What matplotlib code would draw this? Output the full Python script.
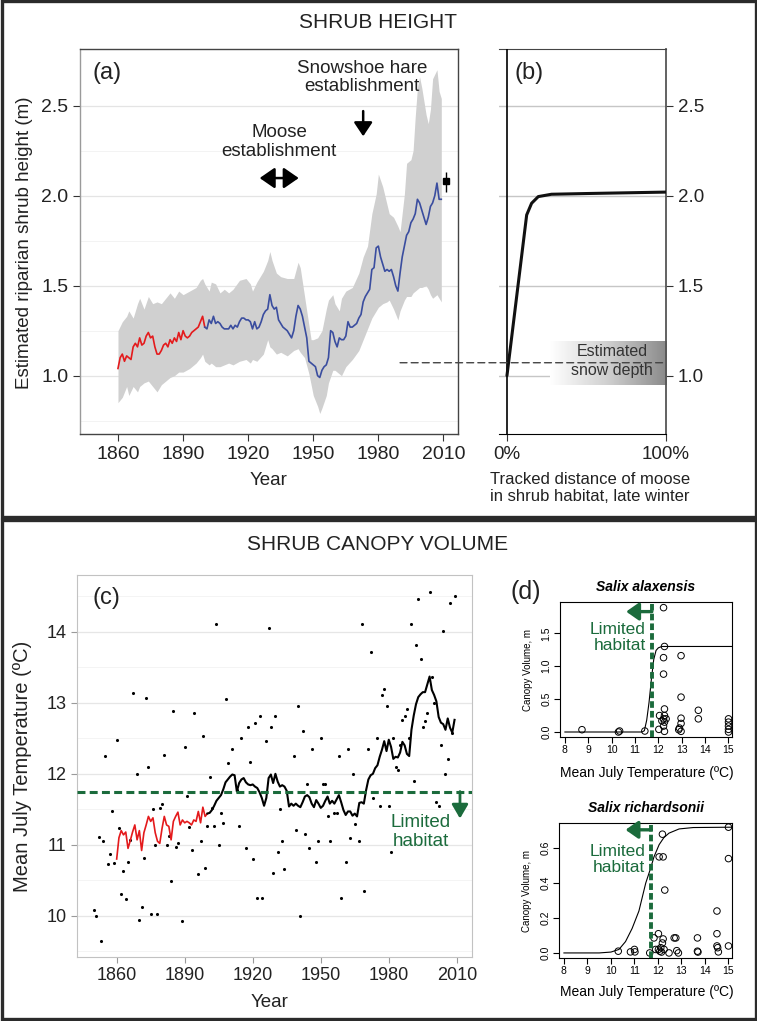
import numpy as np
import matplotlib.pyplot as plt
from matplotlib.patches import Rectangle, ConnectionPatch
from matplotlib.colors import LinearSegmentedColormap

plt.rcParams['font.family'] = ['Liberation Sans', 'DejaVu Sans']

# ---------------- data: (a) shrub height reconstruction ----------------
red_years = np.arange(1860, 1901)
red_height = [1.04, 1.10, 1.12, 1.08, 1.11, 1.10, 1.09, 1.16, 1.18, 1.16,
              1.21, 1.17, 1.18, 1.22, 1.24, 1.21, 1.22, 1.16, 1.12, 1.12,
              1.14, 1.17, 1.18, 1.16, 1.20, 1.18, 1.21, 1.19, 1.24, 1.20,
              1.25, 1.22, 1.21, 1.22, 1.24, 1.25, 1.26, 1.27, 1.30, 1.33,
              1.27]
blue_years = np.arange(1900, 2010)
blue_height = [1.27, 1.26, 1.31, 1.29, 1.33, 1.29, 1.30, 1.29, 1.27, 1.26,
               1.26, 1.26, 1.28, 1.26, 1.28, 1.27, 1.30, 1.32, 1.32, 1.31,
               1.31, 1.30, 1.26, 1.30, 1.26, 1.27, 1.30, 1.34, 1.36, 1.37,
               1.45, 1.39, 1.37, 1.38, 1.31, 1.29, 1.27, 1.26, 1.25, 1.23,
               1.21, 1.25, 1.33, 1.39, 1.37, 1.33, 1.27, 1.21, 1.08, 1.07,
               1.06, 1.05, 1.00, 0.99, 1.03, 1.05, 1.06, 1.10, 1.25, 1.24,
               1.19, 1.16, 1.21, 1.20, 1.20, 1.22, 1.30, 1.27, 1.27, 1.28,
               1.29, 1.32, 1.34, 1.41, 1.44, 1.46, 1.48, 1.59, 1.60, 1.71,
               1.72, 1.66, 1.62, 1.58, 1.59, 1.58, 1.59, 1.55, 1.50, 1.47,
               1.57, 1.66, 1.72, 1.78, 1.80, 1.85, 1.87, 1.90, 1.98, 1.96,
               1.92, 1.88, 1.84, 1.88, 1.94, 1.96, 2.00, 2.07, 1.98, 1.98]
band_years = [1860, 1862, 1864, 1865, 1867, 1869, 1870, 1872, 1874, 1876,
              1878, 1880, 1882, 1884, 1886, 1888, 1890, 1893, 1896, 1898,
              1899, 1900, 1902, 1903, 1905, 1907, 1909, 1911, 1913, 1916,
              1919, 1921, 1922, 1924, 1927, 1929, 1930, 1931, 1933, 1935,
              1938, 1941, 1943, 1944, 1946, 1948, 1949, 1950, 1952, 1953,
              1954, 1956, 1957, 1959, 1960, 1962, 1963, 1965, 1968, 1971,
              1973, 1975, 1977, 1979, 1980, 1982, 1984, 1985, 1987, 1989,
              1990, 1992, 1993, 1995, 1996, 1997, 1998, 1999, 2000, 2002,
              2003, 2004, 2005, 2007, 2008, 2009]
band_upper = [1.25, 1.30, 1.33, 1.36, 1.32, 1.40, 1.43, 1.37, 1.44, 1.40,
              1.41, 1.40, 1.43, 1.46, 1.43, 1.47, 1.45, 1.47, 1.49, 1.53,
              1.54, 1.51, 1.47, 1.52, 1.51, 1.46, 1.48, 1.46, 1.48, 1.53,
              1.54, 1.51, 1.47, 1.52, 1.58, 1.64, 1.69, 1.64, 1.57, 1.55,
              1.54, 1.54, 1.63, 1.60, 1.44, 1.28, 1.20, 1.20, 1.21, 1.23,
              1.25, 1.37, 1.42, 1.45, 1.40, 1.36, 1.43, 1.47, 1.49, 1.57,
              1.66, 1.72, 1.90, 2.01, 2.12, 2.05, 1.95, 1.90, 1.88, 1.83,
              1.80, 2.01, 2.18, 2.20, 2.25, 2.44, 2.60, 2.66, 2.60, 2.45,
              2.40, 2.48, 2.65, 2.70, 2.58, 2.54]
band_lower = [0.85, 0.88, 0.94, 0.89, 0.94, 0.91, 0.94, 0.96, 0.97, 0.94,
              0.91, 0.95, 0.97, 0.99, 1.00, 1.02, 1.02, 1.04, 1.07, 1.10,
              1.12, 1.08, 1.06, 1.07, 1.05, 1.05, 1.06, 1.07, 1.06, 1.08,
              1.09, 1.07, 1.09, 1.08, 1.12, 1.20, 1.16, 1.15, 1.12, 1.13,
              1.11, 1.14, 1.15, 1.13, 1.10, 1.01, 0.95, 0.89, 0.83, 0.79,
              0.82, 0.89, 0.96, 1.03, 1.03, 1.01, 1.00, 1.05, 1.09, 1.14,
              1.20, 1.26, 1.32, 1.36, 1.38, 1.40, 1.41, 1.42, 1.37, 1.31,
              1.36, 1.42, 1.44, 1.44, 1.46, 1.47, 1.48, 1.49, 1.49, 1.50,
              1.48, 1.45, 1.43, 1.45, 1.43, 1.41]
obs_year, obs_height, obs_low, obs_high = 2011, 2.08, 2.02, 2.13
snow_depth = 1.072

# ---------------- data: (b) moose use vs shrub height ----------------
moose_frac = [0.0, 0.124, 0.155, 0.197, 0.28, 0.5, 1.0]
moose_height = [1.0, 1.893, 1.958, 1.995, 2.008, 2.012, 2.02]

# ---------------- data: (c) July temperature ----------------
dot_year = [1850, 1851, 1852, 1853, 1854, 1855, 1856, 1857, 1858, 1859,
            1860, 1861, 1862, 1863, 1864, 1865, 1866, 1867, 1869, 1870,
            1871, 1872, 1873, 1874, 1875, 1876, 1877, 1878, 1879, 1880,
            1881, 1882, 1883, 1884, 1885, 1886, 1887, 1889, 1890, 1891,
            1892, 1893, 1894, 1896, 1897, 1898, 1899, 1900, 1901, 1902,
            1903, 1904, 1905, 1906, 1907, 1908, 1909, 1911, 1913, 1914,
            1915, 1917, 1918, 1919, 1920, 1921, 1922, 1923, 1924, 1926,
            1927, 1928, 1929, 1930, 1931, 1932, 1933, 1934, 1938, 1939,
            1940, 1941, 1942, 1943, 1944, 1945, 1946, 1948, 1949, 1950,
            1951, 1952, 1953, 1954, 1956, 1957, 1958, 1959, 1961, 1962,
            1963, 1964, 1965, 1967, 1968, 1969, 1971, 1972, 1973, 1975,
            1976, 1977, 1978, 1979, 1980, 1981, 1982, 1983, 1984, 1985,
            1986, 1987, 1988, 1989, 1990, 1991, 1992, 1993, 1994, 1995,
            1996, 1997, 1998, 1999, 2000, 2001, 2002, 2003, 2004, 2005,
            2006, 2007, 2008, 2009]
dot_temp = [10.08, 10.00, 11.11, 9.65, 11.05, 12.25, 10.73, 10.87, 11.48, 10.75,
            12.47, 11.23, 10.31, 10.63, 10.24, 10.76, 11.07, 13.14, 12.00, 9.94,
            10.12, 10.81, 13.07, 12.09, 10.03, 11.50, 11.00, 10.03, 11.52, 11.58,
            12.27, 11.00, 11.12, 10.49, 12.89, 10.97, 11.02, 9.93, 12.38, 11.69,
            11.25, 10.92, 12.86, 10.59, 11.06, 12.53, 10.67, 11.26, 11.95, 11.52,
            11.26, 14.11, 11.00, 11.45, 11.31, 13.06, 12.15, 12.35, 11.77, 11.26,
            12.50, 10.95, 12.66, 12.16, 10.80, 12.71, 10.25, 12.81, 10.25, 12.46,
            14.06, 12.66, 10.60, 12.81, 10.90, 11.50, 11.05, 10.66, 12.25, 11.21,
            12.96, 10.00, 12.60, 11.15, 11.86, 10.95, 12.35, 10.76, 11.05, 12.50,
            11.86, 11.86, 11.41, 11.05, 11.45, 11.45, 12.25, 10.25, 10.76, 12.35,
            11.09, 12.00, 11.30, 11.05, 14.11, 10.35, 12.35, 13.71, 11.66, 12.50,
            11.55, 13.11, 13.20, 12.96, 11.55, 10.90, 12.50, 12.10, 12.06, 12.41,
            12.76, 12.81, 12.91, 12.50, 14.11, 11.90, 13.81, 14.46, 13.62, 12.66,
            12.75, 12.85, 14.56, 13.36, 13.00, 11.61, 11.55, 12.41, 14.01, 12.00,
            12.21, 14.41, 12.57, 14.51]
red_temp = [10.80, 11.10, 11.20, 11.14, 11.18, 10.95, 11.06, 11.18, 11.28, 11.07,
            11.20, 10.92, 11.17, 11.28, 11.40, 11.33, 11.38, 11.17, 11.05, 11.02,
            11.23, 11.40, 11.28, 11.26, 11.07, 11.33, 11.40, 11.46, 11.28, 11.35,
            11.31, 11.33, 11.31, 11.28, 11.35, 11.33, 11.47, 11.31, 11.53, 11.40,
            11.44]
black_temp = [11.44, 11.45, 11.49, 11.55, 11.62, 11.66, 11.70, 11.78, 11.88, 11.92,
              11.96, 11.99, 11.98, 11.75, 11.87, 11.92, 11.94, 11.88, 11.85, 11.84,
              11.85, 11.82, 11.80, 11.74, 11.66, 11.55, 11.66, 11.94, 11.99, 11.87,
              12.00, 11.89, 11.82, 11.84, 11.82, 11.76, 11.54, 11.58, 11.55, 11.58,
              11.55, 11.53, 11.60, 11.68, 11.70, 11.67, 11.58, 11.53, 11.63, 11.58,
              11.52, 11.55, 11.62, 11.68, 11.58, 11.62, 11.58, 11.64, 11.70, 11.60,
              11.49, 11.42, 11.47, 11.47, 11.41, 11.44, 11.40, 11.59, 11.60, 11.58,
              11.77, 11.92, 11.98, 12.00, 12.08, 12.12, 12.24, 12.34, 12.46, 12.32,
              12.48, 12.38, 12.21, 12.24, 12.23, 12.30, 12.45, 12.40, 12.28, 12.25,
              12.62, 12.82, 12.98, 13.08, 13.12, 13.15, 13.15, 13.26, 13.37, 13.18,
              13.11, 13.02, 12.80, 12.72, 12.70, 12.62, 12.78, 12.65, 12.58, 12.76]
habitat_temp = 11.75

# ---------------- data: (d) canopy volume vs temperature ----------------
alax_temp = [8.73, 10.29, 10.34, 11.42, 12.02, 12.05, 12.15, 12.22, 12.22, 12.22,
             12.22, 12.22, 12.26, 12.26, 12.26, 12.26, 12.26, 12.33, 12.87, 12.90,
             12.97, 12.97, 12.97, 12.97, 12.97, 13.71, 13.71, 15.0, 15.0, 15.0,
             15.0, 15.0]
alax_vol = [0.035, 0.0, 0.015, 0.015, 0.04, 0.25, 0.17, 1.89, 1.13, 0.88,
            0.20, 0.09, 1.30, 0.35, 0.25, 0.15, 0.01, 0.20, 0.035, 0.06,
            1.16, 0.53, 0.21, 0.13, 0.01, 0.33, 0.20, 0.20, 0.15, 0.09,
            0.04, 0.0]
alax_fit_t = [8.0, 11.3, 11.4, 11.5, 11.6, 11.7, 11.8, 11.9, 12.0, 12.15, 15.15]
alax_fit_v = [0.0, 0.0, 0.02, 0.18, 0.45, 0.80, 1.10, 1.24, 1.28, 1.30, 1.30]

rich_temp = [10.31, 10.83, 11.0, 11.02, 11.65, 11.83, 11.9, 12.02, 12.02, 12.05,
             12.08, 12.12, 12.15, 12.19, 12.19, 12.22, 12.22, 12.26, 12.29, 12.47,
             12.69, 12.76, 12.8, 12.87, 13.68, 13.68, 13.7, 14.51, 14.51, 14.51,
             14.54, 14.57, 15.0, 15.0, 15.0]
rich_vol = [0.01, 0.006, 0.02, 0.006, 0.0, 0.086, 0.02, 0.11, 0.02, 0.55,
            0.01, 0.03, 0.005, 0.68, 0.057, 0.55, 0.08, 0.02, 0.36, 0.0,
            0.086, 0.086, 0.013, 0.0, 0.086, 0.01, 0.005, 0.24, 0.11, 0.04,
            0.03, 0.006, 0.72, 0.54, 0.04]
rich_fit_t = [8.0, 9.5, 10.0, 10.34, 10.62, 10.9, 11.19, 11.48, 11.7, 11.83,
              12.05, 12.25, 12.47, 12.9, 13.5, 15.15]
rich_fit_v = [0.0, 0.0, 0.005, 0.02, 0.065, 0.14, 0.24, 0.40, 0.49, 0.55,
              0.62, 0.66, 0.686, 0.71, 0.718, 0.72]

# ---------------- layout helpers (pixels of a 757x1021 image) ----------------
W, H = 757, 1021
def fx(px):
    return px / W
def fy(py):
    return 1 - py / H
def box(x0, y0, x1, y1):
    return [x0 / W, 1 - y1 / H, (x1 - x0) / W, (y1 - y0) / H]

green = '#1b6b3c'
dark = '#333333'

fig = plt.figure(figsize=(W / 100, H / 100), dpi=100)

# outer frames of the two sections
fig.add_artist(Rectangle((fx(1.5), fy(517.5)), fx(754), 516 / H, transform=fig.transFigure,
                         fill=False, lw=2.4, ec='#2b2b2b'))
fig.add_artist(Rectangle((fx(1.5), fy(1019)), fx(754), 499 / H, transform=fig.transFigure,
                         fill=False, lw=2.4, ec='#2b2b2b'))
fig.text(fx(378), fy(22), 'SHRUB HEIGHT', ha='center', va='center', fontsize=15, color='#222')
fig.text(fx(378), fy(544), 'SHRUB CANOPY VOLUME', ha='center', va='center', fontsize=15, color='#222')

# ---------------- (a) ----------------
ax_a = fig.add_axes(box(80, 49, 458, 434))
ax_a.fill_between(band_years, band_lower, band_upper, color='#d0d0d0', lw=0, zorder=1)
ax_a.plot(red_years, red_height, color='#e41a1c', lw=1.2, zorder=3)
ax_a.plot(blue_years, blue_height, color='#3a4d9f', lw=1.2, zorder=3)
ax_a.errorbar(obs_year, obs_height, yerr=[[obs_height - obs_low], [obs_high - obs_height]],
              fmt='s', color='black', ms=5, elinewidth=1, capsize=0, zorder=4)
ax_a.set_xlim(1842.5, 2016.7)
ax_a.set_ylim(0.676, 2.815)
ax_a.set_xticks([1860, 1890, 1920, 1950, 1980, 2010])
ax_a.set_yticks([1.0, 1.5, 2.0, 2.5])
ax_a.set_yticklabels(['1.0', '1.5', '2.0', '2.5'])
ax_a.set_yticks([0.75, 1.25, 1.75, 2.25], minor=True)
ax_a.grid(axis='y', which='major', color='#e4e4e4', lw=0.9)
ax_a.grid(axis='y', which='minor', color='#f1f1f1', lw=0.6)
ax_a.set_axisbelow(True)
ax_a.tick_params(which='major', direction='out', length=5, color=dark, labelsize=14, labelcolor='#222')
ax_a.tick_params(which='minor', length=0)
for s in ax_a.spines.values():
    s.set_color('#444')
    s.set_linewidth(1.0)
ax_a.spines['left'].set_color('#9a9a9a')

ax_a.text(1972.6, 2.655, 'Snowshoe hare\nestablishment', ha='center', va='center',
          fontsize=13.5, color='#222', linespacing=1.1)
ax_a.annotate('', xy=(1973, 2.33), xytext=(1973, 2.47),
              arrowprops=dict(arrowstyle='-|>,head_length=0.6,head_width=0.4', color='black', lw=1.8,
                              mutation_scale=14, shrinkA=0, shrinkB=0))
ax_a.text(1934.3, 2.30, 'Moose\nestablishment', ha='center', va='center',
          fontsize=13.5, color='#222', linespacing=1.15)
ax_a.annotate('', xy=(1925.3, 2.098), xytext=(1943.3, 2.098),
              arrowprops=dict(arrowstyle='<|-|>,head_length=0.65,head_width=0.45', color='black', lw=1.8,
                              mutation_scale=14, shrinkA=0, shrinkB=0))
fig.text(fx(92), fy(73), '(a)', ha='left', va='center', fontsize=17, color='#222')
fig.text(fx(269), fy(480), 'Year', ha='center', va='center', fontsize=13.5, color='#222')
fig.text(fx(25), fy(243), 'Estimated riparian shrub height (m)', rotation=90,
         ha='center', va='center', fontsize=13.5, color='#222')

# ---------------- (b) ----------------
ax_b = fig.add_axes(box(499, 49, 666, 434))
snow_cmap = LinearSegmentedColormap.from_list('snow', ['#ffffff', '#cfcfcf', '#8a8a8a'])
ax_b.imshow(np.linspace(0, 1, 256)[None, :], cmap=snow_cmap, aspect='auto',
            extent=(0.27, 1.0, 0.95, 1.19), zorder=2)
ax_b.text(0.66, 1.082, 'Estimated\nsnow depth', ha='center', va='center', fontsize=11.5,
          color=dark, linespacing=1.3, zorder=3)
ax_b.axvline(0, color='black', lw=1.2, zorder=3)
ax_b.plot(moose_frac, moose_height, color='#111', lw=2.2, zorder=4, solid_capstyle='round')
ax_b.set_xlim(-0.05, 1.0)
ax_b.set_ylim(0.676, 2.815)
ax_b.set_yticks([1.0, 1.5, 2.0, 2.5])
ax_b.set_yticklabels(['1.0', '1.5', '2.0', '2.5'])
ax_b.yaxis.tick_right()
ax_b.set_xticks([0, 1])
ax_b.set_xticklabels(['0%', '100%'])
ax_b.grid(axis='y', color='#c6c6c6', lw=1.0)
ax_b.set_axisbelow(True)
ax_b.tick_params(direction='out', length=5, color=dark, labelsize=13.5, labelcolor='#222')
ax_b.spines['left'].set_visible(False)
ax_b.spines['bottom'].set_color('black')
ax_b.spines['top'].set_color('#444')
ax_b.spines['right'].set_color('#555')
ax_b.spines['right'].set_linewidth(1.3)
fig.text(fx(515), fy(73), '(b)', ha='left', va='center', fontsize=17, color='#222')
fig.text(fx(490), fy(488), 'Tracked distance of moose\nin shrub habitat, late winter',
         ha='left', va='center', fontsize=12, color='#222', linespacing=1.2)

# dashed snow-depth line from (a) across into (b)
con = ConnectionPatch(xyA=(1990, snow_depth), coordsA=ax_a.transData,
                      xyB=(1.0, snow_depth), coordsB=ax_b.transData,
                      color='#444', lw=1.0, linestyle=(0, (5, 3)), zorder=6)
fig.add_artist(con)

# ---------------- (c) ----------------
ax_c = fig.add_axes(box(77, 575, 472, 957))
ax_c.scatter(dot_year, dot_temp, s=5, color='black', lw=0, zorder=3)
ax_c.plot(red_years, red_temp, color='#e41a1c', lw=1.2, zorder=4)
ax_c.plot(blue_years, black_temp, color='black', lw=1.5, zorder=4)
ax_c.axhline(habitat_temp, color=green, lw=2.2, dashes=(2.6, 1.4), zorder=5)
ax_c.annotate('', xy=(2011.4, 11.37), xytext=(2011.4, 11.75),
              arrowprops=dict(arrowstyle='-|>,head_length=0.6,head_width=0.35', color=green, lw=2,
                              mutation_scale=14, shrinkA=0, shrinkB=0))
ax_c.text(1994.2, 11.18, 'Limited\nhabitat', ha='center', va='center', fontsize=13.5,
          color=green, linespacing=1.15)
ax_c.set_xlim(1842.5, 2016.7)
ax_c.set_ylim(9.42, 14.8)
ax_c.set_xticks([1860, 1890, 1920, 1950, 1980, 2010])
ax_c.set_yticks([10, 11, 12, 13, 14])
ax_c.set_yticks([9.5, 10.5, 11.5, 12.5, 13.5, 14.5], minor=True)
ax_c.grid(axis='y', which='major', color='#e6e6e6', lw=0.9)
ax_c.grid(axis='y', which='minor', color='#f2f2f2', lw=0.6)
ax_c.set_axisbelow(True)
ax_c.tick_params(which='major', direction='out', length=4, color='#9a9a9a', labelsize=13, labelcolor='#222')
ax_c.tick_params(which='minor', length=0)
for s in ax_c.spines.values():
    s.set_color('#c2c2c2')
fig.text(fx(92), fy(598), '(c)', ha='left', va='center', fontsize=17, color='#222')
fig.text(fx(270), fy(1002), 'Year', ha='center', va='center', fontsize=13.5, color='#222')
fig.text(fx(23), fy(766), 'Mean July Temperature (ºC)', rotation=90,
         ha='center', va='center', fontsize=14.5, color='#222')

# ---------------- (d) ----------------
ax_d1 = fig.add_axes(box(560, 602, 732, 737))
ax_d2 = fig.add_axes(box(559, 823, 732, 958))
panels = [(ax_d1, alax_temp, alax_vol, alax_fit_t, alax_fit_v, (-0.076, 1.976),
           [0.0, 0.5, 1.0, 1.5], 'Salix alaxensis', 1.83, 1.435),
          (ax_d2, rich_temp, rich_vol, rich_fit_t, rich_fit_v, (-0.029, 0.744),
           [0.0, 0.2, 0.4, 0.6], 'Salix richardsonii', 0.705, 0.535)]
for ax, t, v, ft, fv, ylim, yt, name, arrow_y, text_y in panels:
    ax.scatter(t, v, s=22, facecolors='none', edgecolors='black', lw=0.7, zorder=3)
    ax.plot(ft, fv, color='black', lw=0.8, zorder=2)
    ax.axvline(habitat_temp - 0.03, color=green, lw=2.8, dashes=(1.7, 0.8), zorder=4)
    ax.annotate('', xy=(10.62, arrow_y), xytext=(habitat_temp - 0.03, arrow_y),
                arrowprops=dict(arrowstyle='-|>,head_length=0.5,head_width=0.35', color=green, lw=2.4,
                                mutation_scale=15, shrinkA=0, shrinkB=0), zorder=5)
    ax.text(11.45, text_y, 'Limited\nhabitat', ha='right', va='center', fontsize=12.5,
            color=green, linespacing=1.15, multialignment='right', zorder=5)
    ax.set_xlim(7.79, 15.15)
    ax.set_ylim(*ylim)
    ax.set_xticks(range(8, 16))
    ax.set_yticks(yt)
    ax.set_yticklabels(['%.1f' % y for y in yt], rotation=90, va='center')
    ax.tick_params(direction='out', length=4, width=0.8, labelsize=7.5, pad=2)
    for s in ax.spines.values():
        s.set_linewidth(0.8)
        s.set_color('black')
    ax.set_title(name, fontsize=10, fontweight='bold', fontstyle='italic', pad=8)

fig.text(fx(647), fy(773), 'Mean July Temperature (ºC)', ha='center', va='center', fontsize=10)
fig.text(fx(647), fy(992), 'Mean July Temperature (ºC)', ha='center', va='center', fontsize=10)
fig.text(fx(528), fy(670), 'Canopy Volume, m', rotation=90, ha='center', va='center', fontsize=7)
fig.text(fx(527), fy(891), 'Canopy Volume, m', rotation=90, ha='center', va='center', fontsize=7)
fig.text(fx(510), fy(592), '(d)', ha='left', va='center', fontsize=18, color='#222')

fig.savefig('out.png', dpi=100)
